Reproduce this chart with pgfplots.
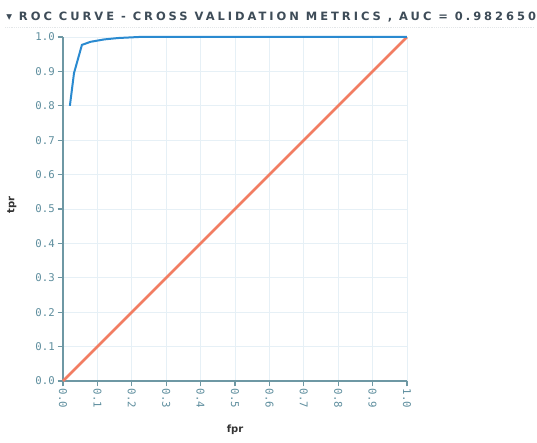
\documentclass[border=0pt]{standalone}
\usepackage{pgfplots}
\pgfplotsset{compat=1.18}
\usepackage{fontspec}
\setmainfont{DejaVu Sans}
\setmonofont{DejaVu Sans Mono}
\newfontfamily\titlefont[LetterSpace=26]{DejaVu Sans}
\definecolor{axc}{HTML}{6E98A4}
\definecolor{tickc}{HTML}{5E8E9E}
\definecolor{gridc}{HTML}{E6F0F6}
\definecolor{rocblue}{HTML}{2A8AD0}
\definecolor{diagc}{HTML}{F27D62}
\definecolor{titlec}{HTML}{3E4C58}
\begin{document}
\begin{tikzpicture}[x=0.75pt,y=0.75pt]
\useasboundingbox (0,0) rectangle (537,443);
\fill[white] (0,0) rectangle (537,443);
\node[anchor=west,inner sep=0pt,text=titlec,font=\titlefont\bfseries\fontsize{8.6pt}{10pt}\selectfont] at (6,426) {▾ ROC CURVE - CROSS VALIDATION METRICS , AUC = 0.982650};
\draw[gridc!60!gray!40, densely dotted] (5,416) -- (535,416);
\begin{axis}[
  at={(47.25pt,46.5pt)}, anchor=south west,
  scale only axis, width=258pt, height=258pt,
  xmin=0, xmax=1, ymin=0, ymax=1,
  axis x line*=bottom, axis y line*=left,
  axis line style={axc, line width=1.2pt, -},
  xtick={0,0.1,...,1.0}, ytick={0,0.1,...,1.0},
  xticklabel={\pgfmathprintnumber[fixed,fixed zerofill,precision=1]{\tick}},
  yticklabel={\pgfmathprintnumber[fixed,fixed zerofill,precision=1]{\tick}},
  /pgf/number format/assume math mode=true,
  ticklabel style={font=\ttfamily\fontsize{8pt}{9pt}\selectfont, text=tickc},
  x tick label style={rotate=-90, anchor=west, inner sep=1.5pt},
  y tick label style={anchor=east, inner sep=2pt},
  tick align=outside, major tick length=4pt,
  tick style={axc, line width=0.8pt},
  grid=major, major grid style={gridc, line width=0.6pt},
  clip=false,
]
\addplot[diagc, line width=2pt] coordinates {(0,0) (1,1)};
\addplot[rocblue, line width=1.5pt] coordinates {
(0.02,0.80) (0.032,0.895) (0.055,0.977) (0.08,0.986) (0.12,0.993) (0.16,0.997) (0.22,1.0) (1.0,1.0)};
\end{axis}
\node[rotate=90, font=\bfseries\fontsize{7.5pt}{8pt}\selectfont, text=black!80] at (12,238) {tpr};
\node[font=\bfseries\fontsize{7.5pt}{8pt}\selectfont, text=black!80] at (235,13) {fpr};
\end{tikzpicture}
\end{document}
